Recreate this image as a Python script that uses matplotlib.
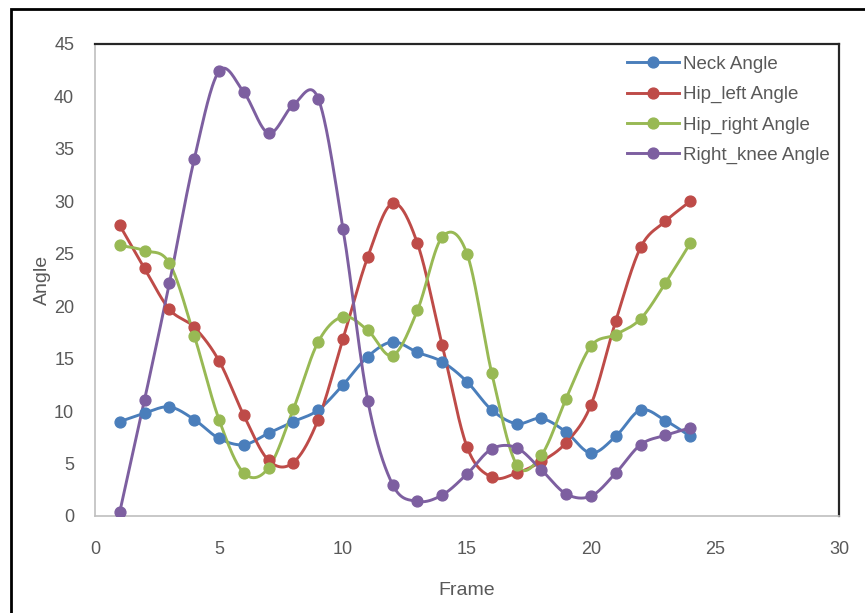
import numpy as np
import matplotlib
matplotlib.use("Agg")
import matplotlib.pyplot as plt
from matplotlib.patches import Rectangle

frames = list(range(1, 25))
neck_angle = [9.0, 9.8, 10.4, 9.2, 7.4, 6.8, 7.9, 9.0, 10.1, 12.5, 15.2, 16.6,
              15.6, 14.7, 12.8, 10.1, 8.8, 9.3, 8.0, 6.0, 7.6, 10.1, 9.1, 7.6]
hip_left_angle = [27.7, 23.6, 19.7, 18.0, 14.8, 9.6, 5.3, 5.1, 9.2, 16.9, 24.7, 29.8,
                  26.0, 16.3, 6.6, 3.7, 4.1, 5.2, 7.0, 10.6, 18.6, 25.6, 28.1, 30.0]
hip_right_angle = [25.8, 25.3, 24.1, 17.2, 9.2, 4.1, 4.6, 10.2, 16.6, 19.0, 17.7, 15.3,
                   19.6, 26.6, 25.0, 13.6, 4.9, 5.8, 11.2, 16.2, 17.3, 18.8, 22.2, 26.0]
right_knee_angle = [0.4, 11.1, 22.2, 34.0, 42.4, 40.4, 36.5, 39.2, 39.8, 27.4, 11.0, 3.0,
                    1.4, 2.0, 4.0, 6.4, 6.5, 4.4, 2.1, 1.9, 4.1, 6.8, 7.7, 8.4]

series = [
    ("Neck Angle", neck_angle, "#4A7EBB"),
    ("Hip_left Angle", hip_left_angle, "#BE4B48"),
    ("Hip_right Angle", hip_right_angle, "#98B954"),
    ("Right_knee Angle", right_knee_angle, "#7D5FA0"),
]


def smooth_curve(x, y, steps=30):
    """Cubic Bezier smoothing through every point (spreadsheet-style smoothed line)."""
    x = np.asarray(x, float)
    y = np.asarray(y, float)
    n = len(x)
    xs, ys = [], []
    for i in range(n - 1):
        x0, y0 = (x[i - 1], y[i - 1]) if i > 0 else (x[i], y[i])
        x3, y3 = (x[i + 2], y[i + 2]) if i + 2 < n else (x[i + 1], y[i + 1])
        p0 = np.array([x[i], y[i]])
        p3 = np.array([x[i + 1], y[i + 1]])
        c1 = p0 + (p3 - np.array([x0, y0])) / 6.0
        c2 = p3 - (np.array([x3, y3]) - p0) / 6.0
        t = np.linspace(0, 1, steps, endpoint=(i == n - 2))[:, None]
        pts = ((1 - t) ** 3) * p0 + 3 * ((1 - t) ** 2) * t * c1 + 3 * (1 - t) * t ** 2 * c2 + t ** 3 * p3
        xs.append(pts[:, 0])
        ys.append(pts[:, 1])
    return np.concatenate(xs), np.concatenate(ys)


plt.rcParams['font.family'] = ['Liberation Sans', 'DejaVu Sans']

fig = plt.figure(figsize=(8.65, 6.13), dpi=100)
ax = fig.add_axes([95 / 865, 97 / 613, 744 / 865, 472 / 613])

text_color = "#595959"
for name, vals, color in series:
    sx, sy = smooth_curve(frames, vals)
    ax.plot(sx, sy, color=color, lw=2.1, solid_capstyle="round", zorder=2)
    ax.plot(frames, vals, linestyle="none", marker="o", ms=7.8, color=color, zorder=3)
    ax.plot([], [], color=color, lw=2.1, marker="o", ms=7.8, label=name)

ax.set_xlim(0, 30)
ax.set_ylim(0, 45)
ax.set_xticks(range(0, 31, 5))
ax.set_yticks(range(0, 46, 5))
ax.tick_params(axis="both", length=0, labelsize=13, labelcolor=text_color)
ax.tick_params(axis="y", pad=15)
ax.tick_params(axis="x", pad=18)

for side in ("left", "bottom"):
    ax.spines[side].set_color("#BFBFBF")
    ax.spines[side].set_linewidth(1.2)
for side in ("top", "right"):
    ax.spines[side].set_color("#262626")
    ax.spines[side].set_linewidth(1.6)

ax.set_xlabel("Frame", fontsize=14, color=text_color, labelpad=17)
ax.set_ylabel("Angle", fontsize=14, color=text_color, labelpad=2)

leg = ax.legend(loc="upper right", bbox_to_anchor=(1.005, 1.003), frameon=False,
                fontsize=13.5, handlelength=2.8, handletextpad=0.2,
                labelspacing=0.7, borderaxespad=0.3)
for txt in leg.get_texts():
    txt.set_color(text_color)

# outer chart frame
fig.patches.append(Rectangle((11 / 865, -0.05), 1.0, (613 - 9) / 613 + 0.05,
                             transform=fig.transFigure, fill=False,
                             edgecolor="black", lw=2.0, clip_on=False))

fig.savefig("out.png", dpi=100)
